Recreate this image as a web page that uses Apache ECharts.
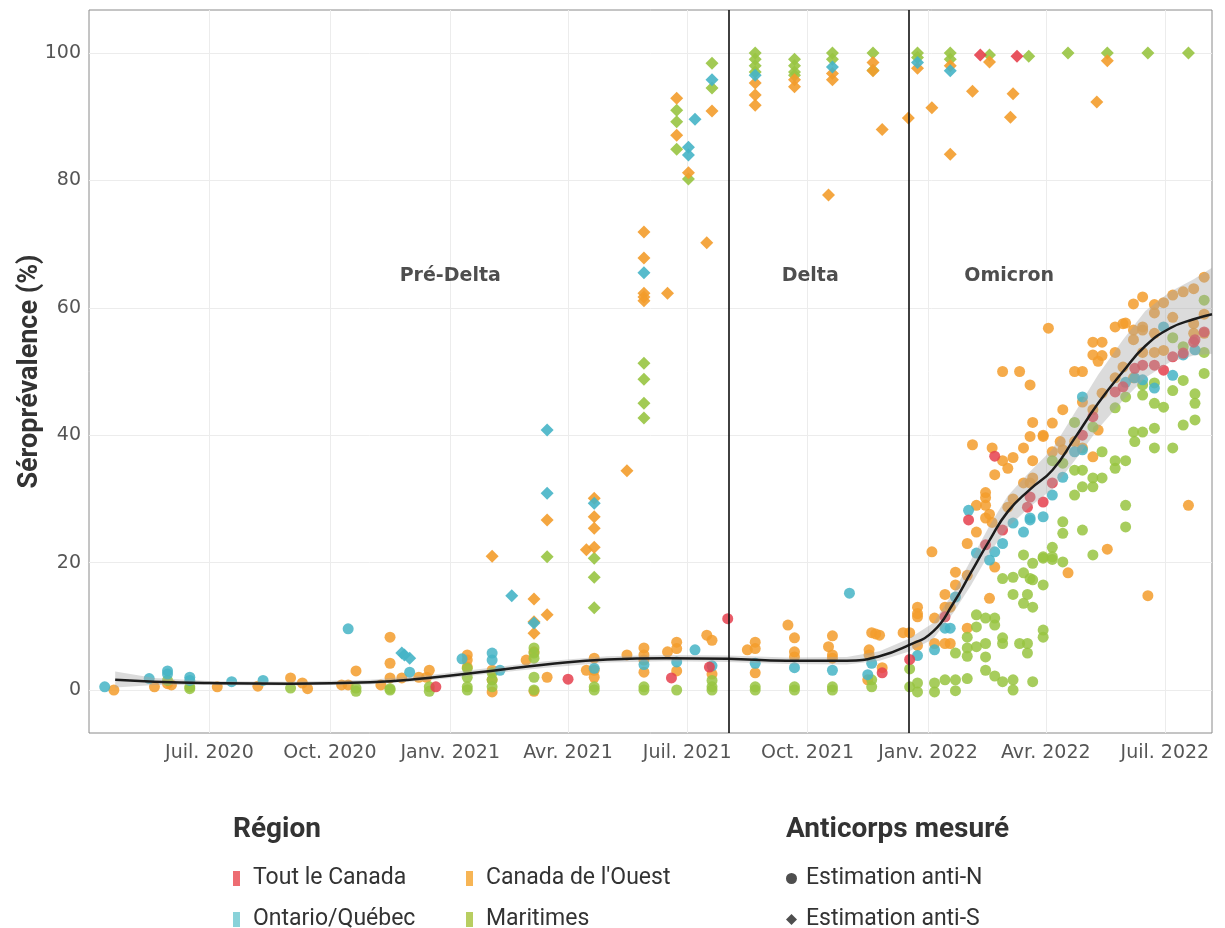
<!DOCTYPE html>
<html>
<head>
<meta charset="utf-8">
<script src="https://cdn.jsdelivr.net/npm/echarts@6/dist/echarts.min.js"></script>
<style>
  html, body { margin: 0; padding: 0; background: #fff; }
  #chart { width: 1225px; height: 928px; }
</style>
</head>
<body>
<div id="chart"></div>
<script>
// axes
var xMin = '2020-03-31', xMax = '2022-08-06';
var xTickDates = ['2020-07-01', '2020-10-01', '2021-01-01', '2021-04-01', '2021-07-01', '2021-10-01', '2022-01-01', '2022-04-01', '2022-07-01'];
var xTickLabels = ['Juil. 2020', 'Oct. 2020', 'Janv. 2021', 'Avr. 2021', 'Juil. 2021', 'Oct. 2021', 'Janv. 2022', 'Avr. 2022', 'Juil. 2022'];
var yTickValues = [0, 20, 40, 60, 80, 100];

// périodes
var phaseNames = ['Pré-Delta', 'Delta', 'Omicron'];
var phaseDates = ['2021-01-01', '2021-10-03', '2022-03-04'];
var phaseBreaks = ['2021-08-02', '2021-12-17'];

// Tout le Canada
var canadaN = [
  ['2020-12-21', 0.5], ['2021-04-01', 1.7], ['2021-06-19', 1.9], ['2021-07-18', 3.6], ['2021-08-01', 11.2],
  ['2021-11-27', 2.7], ['2021-12-18', 4.8], ['2022-01-14', 11.5], ['2022-02-01', 26.7], ['2022-02-14', 22.8],
  ['2022-02-21', 36.7], ['2022-02-27', 25.1], ['2022-03-18', 28.7], ['2022-03-20', 30.3], ['2022-03-30', 29.5],
  ['2022-04-06', 32.5], ['2022-04-29', 40], ['2022-05-07', 42.9], ['2022-05-24', 46.8], ['2022-05-30', 47.6],
  ['2022-06-08', 50.5], ['2022-06-14', 51], ['2022-06-23', 51], ['2022-06-30', 50.2], ['2022-07-07', 52.3],
  ['2022-07-15', 52.9], ['2022-07-24', 55], ['2022-07-23', 54.6], ['2022-07-31', 56.2]
];
var canadaS = [['2022-02-10', 99.7], ['2022-03-10', 99.5]];

// Canada de l'Ouest
var ouestN = [
  ['2020-04-19', 0], ['2020-05-20', 0.5], ['2020-05-30', 1.0], ['2020-06-02', 0.8], ['2020-07-07', 0.5],
  ['2020-08-07', 0.6], ['2020-09-01', 1.9], ['2020-09-10', 1.1], ['2020-09-14', 0.2], ['2020-10-10', 0.8],
  ['2020-10-15', 0.8], ['2020-10-21', 3.0], ['2020-11-09', 0.8], ['2020-11-16', 8.3], ['2020-11-16', 4.2],
  ['2020-11-16', 1.9], ['2020-11-25', 1.9], ['2020-12-08', 2.0], ['2020-12-14', 2.0], ['2020-12-16', 3.1],
  ['2021-01-14', 5.5], ['2021-01-14', 4.7], ['2021-01-14', 3.6], ['2021-02-02', 3.1], ['2021-02-02', 1.6],
  ['2021-02-02', -0.3], ['2021-02-28', 4.7], ['2021-03-06', 6.0], ['2021-03-06', -0.2], ['2021-03-16', 2.0],
  ['2021-04-15', 3.1], ['2021-04-21', 5.0], ['2021-04-21', 3.1], ['2021-04-21', 2.0], ['2021-05-16', 5.5],
  ['2021-05-29', 6.6], ['2021-05-29', 5.5], ['2021-05-29', 4.7], ['2021-05-29', 2.8], ['2021-06-16', 6.0],
  ['2021-06-23', 7.5], ['2021-06-23', 6.5], ['2021-06-23', 3.0], ['2021-07-16', 8.6], ['2021-07-20', 7.8],
  ['2021-07-20', 2.5], ['2021-08-16', 6.3], ['2021-08-22', 7.5], ['2021-08-22', 6.5], ['2021-08-22', 2.7],
  ['2021-09-16', 10.2], ['2021-09-21', 8.2], ['2021-09-21', 6.0], ['2021-09-21', 5.2], ['2021-10-17', 6.8],
  ['2021-10-20', 8.5], ['2021-10-20', 5.0], ['2021-10-20', 5.5], ['2021-11-19', 9.0], ['2021-11-25', 8.6],
  ['2021-11-22', 8.8], ['2021-11-17', 6.3], ['2021-11-17', 5.5], ['2021-11-27', 3.5], ['2021-11-16', 1.6],
  ['2021-12-13', 9.0], ['2021-12-18', 9.0], ['2021-12-24', 13], ['2021-12-24', 12], ['2021-12-24', 11.5],
  ['2021-12-24', 7.0], ['2022-01-04', 21.7], ['2022-01-06', 11.3], ['2022-01-06', 7.3], ['2022-01-14', 15],
  ['2022-01-14', 13], ['2022-01-14', 7.3], ['2022-01-18', 13], ['2022-01-18', 7.3], ['2022-01-22', 18.5],
  ['2022-01-22', 16.5], ['2022-01-31', 18], ['2022-01-31', 23], ['2022-01-31', 9.7], ['2022-02-04', 38.5],
  ['2022-02-07', 29], ['2022-02-07', 24.8], ['2022-02-14', 31], ['2022-02-14', 30.2], ['2022-02-14', 29],
  ['2022-02-14', 27], ['2022-02-17', 27.6], ['2022-02-17', 14.4], ['2022-02-19', 38], ['2022-02-19', 26.3],
  ['2022-02-21', 33.8], ['2022-02-21', 19.3], ['2022-02-27', 36], ['2022-02-27', 50], ['2022-03-03', 34.8],
  ['2022-03-03', 28.7], ['2022-03-07', 36.5], ['2022-03-07', 30], ['2022-03-12', 50], ['2022-03-15', 38],
  ['2022-03-15', 32.5], ['2022-03-20', 47.9], ['2022-03-20', 39.8], ['2022-03-20', 32.5], ['2022-03-22', 42],
  ['2022-03-22', 36], ['2022-03-22', 33.3], ['2022-03-30', 40], ['2022-03-30', 39.8], ['2022-04-03', 56.8],
  ['2022-04-06', 41.9], ['2022-04-06', 37.4], ['2022-04-12', 39], ['2022-04-14', 44], ['2022-04-14', 37.7],
  ['2022-04-18', 18.4], ['2022-04-23', 50], ['2022-04-23', 39], ['2022-04-29', 50], ['2022-04-29', 45.2],
  ['2022-04-29', 38], ['2022-05-07', 54.6], ['2022-05-07', 52.6], ['2022-05-07', 44], ['2022-05-07', 36.6],
  ['2022-05-11', 51.6], ['2022-05-11', 40.8], ['2022-05-14', 54.6], ['2022-05-14', 52.5], ['2022-05-14', 46.6],
  ['2022-05-18', 22.1], ['2022-05-24', 57], ['2022-05-24', 53], ['2022-05-24', 49], ['2022-05-30', 57.5],
  ['2022-05-30', 50.7], ['2022-06-01', 57.6], ['2022-06-07', 60.6], ['2022-06-07', 56.5], ['2022-06-07', 55],
  ['2022-06-07', 49], ['2022-06-14', 61.7], ['2022-06-14', 57], ['2022-06-14', 56.5], ['2022-06-14', 53],
  ['2022-06-18', 14.8], ['2022-06-23', 60.5], ['2022-06-23', 59.2], ['2022-06-23', 56], ['2022-06-23', 53],
  ['2022-06-30', 60.8], ['2022-06-30', 53.3], ['2022-07-07', 62], ['2022-07-07', 58.5], ['2022-07-15', 62.5],
  ['2022-07-19', 29], ['2022-07-23', 63], ['2022-07-23', 57.5], ['2022-07-23', 56], ['2022-07-31', 64.8],
  ['2022-07-31', 59], ['2022-07-31', 56]
];
var ouestS = [
  ['2021-02-02', 21], ['2021-03-06', 14.3], ['2021-03-06', 10.7], ['2021-03-06', 8.9], ['2021-03-16', 11.8],
  ['2021-03-16', 26.7], ['2021-04-15', 22], ['2021-04-21', 22.4], ['2021-04-21', 30.1], ['2021-04-21', 27.2],
  ['2021-04-21', 25.4], ['2021-05-16', 34.4], ['2021-05-29', 71.9], ['2021-05-29', 67.8], ['2021-05-29', 62.3],
  ['2021-05-29', 61.7], ['2021-05-29', 61.1], ['2021-06-16', 62.3], ['2021-06-23', 92.9], ['2021-06-23', 87.1],
  ['2021-07-02', 81.2], ['2021-07-16', 70.2], ['2021-07-20', 90.9], ['2021-08-22', 95.3], ['2021-08-22', 93.4],
  ['2021-08-22', 91.8], ['2021-09-21', 95.8], ['2021-09-21', 94.7], ['2021-10-17', 77.7], ['2021-10-20', 96.8],
  ['2021-10-20', 95.8], ['2021-11-20', 98.5], ['2021-11-20', 97.2], ['2021-11-27', 88], ['2021-12-17', 89.8],
  ['2021-12-24', 97.6], ['2022-01-04', 91.4], ['2022-01-18', 98], ['2022-01-18', 84.1], ['2022-02-04', 94],
  ['2022-02-17', 98.6], ['2022-03-07', 93.6], ['2022-03-05', 89.9], ['2022-05-10', 92.3], ['2022-05-18', 98.8]
];

// Ontario/Québec
var ontqcN = [
  ['2020-04-12', 0.5], ['2020-05-16', 1.8], ['2020-05-30', 3.0], ['2020-05-30', 2.5], ['2020-06-16', 2.0],
  ['2020-06-16', 1.5], ['2020-07-18', 1.3], ['2020-08-11', 1.5], ['2020-10-15', 9.6], ['2020-12-01', 2.8],
  ['2021-01-10', 4.9], ['2021-02-02', 5.8], ['2021-02-02', 4.7], ['2021-02-08', 3.1], ['2021-04-21', 3.4],
  ['2021-05-29', 4.0], ['2021-06-23', 4.4], ['2021-07-07', 6.3], ['2021-07-20', 3.8], ['2021-08-22', 4.2],
  ['2021-09-21', 3.5], ['2021-10-20', 3.1], ['2021-11-02', 15.2], ['2021-11-19', 4.2], ['2021-11-16', 2.4],
  ['2021-12-24', 5.4], ['2022-01-06', 6.3], ['2022-01-14', 9.7], ['2022-01-18', 9.7], ['2022-01-22', 14.6],
  ['2022-02-01', 28.2], ['2022-02-07', 21.5], ['2022-02-17', 20.4], ['2022-02-21', 21.7], ['2022-02-27', 23],
  ['2022-03-07', 26.2], ['2022-03-15', 24.8], ['2022-03-20', 27], ['2022-03-20', 26.7], ['2022-03-30', 27.2],
  ['2022-04-06', 30.6], ['2022-04-14', 33.4], ['2022-04-23', 37.4], ['2022-04-29', 37.7], ['2022-04-29', 46],
  ['2022-06-01', 48.3], ['2022-06-08', 49], ['2022-06-14', 48.7], ['2022-06-23', 47.4], ['2022-06-30', 57],
  ['2022-07-07', 49.4], ['2022-07-15', 52.6], ['2022-07-24', 53.4]
];
var ontqcS = [
  ['2020-11-25', 5.8], ['2020-11-27', 5.5], ['2020-12-01', 5.0], ['2021-02-17', 14.8], ['2021-03-06', 10.5],
  ['2021-03-16', 40.8], ['2021-03-16', 30.9], ['2021-04-21', 29.3], ['2021-05-29', 65.5], ['2021-07-02', 85.2],
  ['2021-07-02', 84], ['2021-07-07', 89.6], ['2021-07-20', 95.8], ['2021-08-22', 96.5], ['2021-10-20', 97.8],
  ['2021-12-24', 98.5], ['2022-01-18', 97.2]
];

// Maritimes
var maritimesN = [
  ['2020-05-30', 1.5], ['2020-06-16', 0.2], ['2020-06-16', 0.5], ['2020-09-01', 0.3], ['2020-10-21', 0.3],
  ['2020-10-21', -0.2], ['2020-11-16', 0.2], ['2020-11-16', 0], ['2020-12-16', 0.5], ['2020-12-16', -0.2],
  ['2021-01-14', 3.4], ['2021-01-14', 2.0], ['2021-01-14', 0.5], ['2021-01-14', 0], ['2021-02-02', 2.7],
  ['2021-02-02', 1.6], ['2021-02-02', 0.5], ['2021-03-06', 6.6], ['2021-03-06', 5.8], ['2021-03-06', 5.0],
  ['2021-03-06', 2.0], ['2021-03-06', 0], ['2021-04-21', 0.5], ['2021-04-21', 0], ['2021-05-29', 0.5],
  ['2021-05-29', 0], ['2021-06-23', 0], ['2021-07-20', 1.5], ['2021-07-20', 0.5], ['2021-07-20', 0],
  ['2021-08-22', 0.5], ['2021-08-22', 0], ['2021-09-21', 0.5], ['2021-09-21', 0], ['2021-10-20', 0.5],
  ['2021-10-20', 0], ['2021-11-19', 1.6], ['2021-11-19', 0.5], ['2021-12-18', 3.3], ['2021-12-18', 0.5],
  ['2021-12-24', 1.1], ['2021-12-24', -0.3], ['2022-01-06', 1.1], ['2022-01-06', -0.3], ['2022-01-14', 1.6],
  ['2022-01-22', 1.6], ['2022-01-22', -0.1], ['2022-01-22', 5.8], ['2022-01-31', 1.8], ['2022-01-31', 8.3],
  ['2022-01-31', 6.6], ['2022-01-31', 5.3], ['2022-02-07', 9.9], ['2022-02-07', 11.8], ['2022-02-07', 6.8],
  ['2022-02-14', 7.3], ['2022-02-14', 5.2], ['2022-02-14', 3.1], ['2022-02-14', 11.3], ['2022-02-21', 11.3],
  ['2022-02-21', 10.2], ['2022-02-21', 2.2], ['2022-02-27', 8.2], ['2022-02-27', 7.3], ['2022-02-27', 17.5],
  ['2022-02-27', 1.3], ['2022-03-07', 17.7], ['2022-03-07', 15], ['2022-03-07', 1.6], ['2022-03-07', 0],
  ['2022-03-12', 7.3], ['2022-03-15', 18.4], ['2022-03-15', 21.2], ['2022-03-15', 13.6], ['2022-03-18', 15],
  ['2022-03-18', 7.3], ['2022-03-18', 5.8], ['2022-03-20', 17.5], ['2022-03-22', 19.9], ['2022-03-22', 17.3],
  ['2022-03-22', 13], ['2022-03-22', 1.3], ['2022-03-30', 16.5], ['2022-03-30', 20.7], ['2022-03-30', 9.4],
  ['2022-03-30', 8.3], ['2022-03-30', 20.9], ['2022-04-06', 22.4], ['2022-04-06', 20.5], ['2022-04-06', 36],
  ['2022-04-06', 20.9], ['2022-04-14', 20.1], ['2022-04-14', 26.4], ['2022-04-14', 24.6], ['2022-04-14', 35.6],
  ['2022-04-23', 42], ['2022-04-23', 34.5], ['2022-04-23', 30.6], ['2022-04-29', 34.5], ['2022-04-29', 31.9],
  ['2022-04-29', 25.1], ['2022-05-07', 41.3], ['2022-05-07', 33.3], ['2022-05-07', 31.9], ['2022-05-07', 21.2],
  ['2022-05-14', 37.4], ['2022-05-14', 33.3], ['2022-05-24', 44.3], ['2022-05-24', 36], ['2022-05-24', 34.8],
  ['2022-06-01', 46], ['2022-06-01', 36], ['2022-06-01', 29], ['2022-06-01', 25.6], ['2022-06-07', 40.5],
  ['2022-06-08', 39], ['2022-06-14', 46.3], ['2022-06-14', 47.9], ['2022-06-14', 40.5], ['2022-06-23', 48.2],
  ['2022-06-23', 45], ['2022-06-23', 41.1], ['2022-06-23', 38], ['2022-06-30', 44.4], ['2022-07-07', 55.3],
  ['2022-07-07', 47], ['2022-07-07', 38], ['2022-07-15', 53.9], ['2022-07-15', 48.6], ['2022-07-15', 41.6],
  ['2022-07-24', 46.5], ['2022-07-24', 45], ['2022-07-24', 42.4], ['2022-07-31', 61.2], ['2022-07-31', 53],
  ['2022-07-31', 49.7]
];
var maritimesS = [
  ['2021-03-16', 20.9], ['2021-04-21', 20.7], ['2021-04-21', 17.7], ['2021-04-21', 12.9], ['2021-05-29', 51.3],
  ['2021-05-29', 48.8], ['2021-05-29', 45], ['2021-05-29', 42.7], ['2021-06-23', 91], ['2021-06-23', 89.2],
  ['2021-06-23', 84.9], ['2021-07-02', 80.2], ['2021-07-20', 98.4], ['2021-07-20', 94.5], ['2021-08-22', 100],
  ['2021-08-22', 99], ['2021-08-22', 98], ['2021-08-22', 97], ['2021-09-21', 99], ['2021-09-21', 98],
  ['2021-09-21', 97], ['2021-09-21', 96.5], ['2021-10-20', 100], ['2021-10-20', 99], ['2021-11-20', 100],
  ['2021-11-20', 97.3], ['2021-12-24', 100], ['2021-12-24', 99.3], ['2022-01-18', 100], ['2022-01-18', 99],
  ['2022-02-17', 99.7], ['2022-03-19', 99.5], ['2022-04-18', 100], ['2022-05-18', 100], ['2022-06-18', 100],
  ['2022-07-19', 100]
];

// courbe lissée et intervalle de confiance
var fitDates = ['2020-04-20', '2020-05-20', '2020-07-01', '2020-09-01', '2020-11-01', '2020-12-15', '2021-02-01',
  '2021-03-15', '2021-05-01', '2021-06-15', '2021-08-01', '2021-09-15', '2021-10-31', '2021-11-25', '2021-12-17',
  '2022-01-05', '2022-01-20', '2022-02-03', '2022-02-17', '2022-03-03', '2022-03-20', '2022-04-06', '2022-04-23',
  '2022-05-11', '2022-05-30', '2022-06-16', '2022-07-05', '2022-07-23', '2022-08-06'];
var fitVals = [1.6, 1.3, 1.1, 1.0, 1.2, 1.9, 3.0, 4.0, 4.8, 5.0, 4.9, 4.6, 4.6, 5.3, 7.0,
  9.2, 13.5, 18.5, 23.5, 28, 31.5, 34.5, 39.5, 45, 50, 54, 56.8, 58.2, 59];
var fitLo = [0.4, 0.8, 0.8, 0.7, 0.9, 1.5, 2.6, 3.5, 4.3, 4.5, 4.4, 4.1, 4.0, 4.6, 6.0,
  8.0, 12, 16.5, 21.5, 25.5, 28.8, 31.5, 36, 41, 45.5, 49, 51.5, 52.5, 52.8];
var fitHi = [2.9, 1.9, 1.4, 1.3, 1.6, 2.3, 3.5, 4.5, 5.3, 5.5, 5.4, 5.1, 5.2, 6.1, 8.0,
  10.5, 15.2, 20.5, 25.8, 30.5, 34.3, 37.8, 43.5, 49.5, 55, 59.5, 62.5, 64.5, 66.3];

var regions = [
  { name: 'Tout le Canada', color: '#e5404d', legend: '#e8474f', n: canadaN, s: canadaS },
  { name: 'Ontario/Québec', color: '#45b4c6', legend: '#6cc7d0', n: ontqcN, s: ontqcS },
  { name: "Canada de l'Ouest", color: '#f39c2b', legend: '#f5a32a', n: ouestN, s: ouestS },
  { name: 'Maritimes', color: '#98c441', legend: '#a6c23a', n: maritimesN, s: maritimesS }
];

function ts(d) { return +echarts.time.parse(d); }
function toXY(arr) { return arr.map(function (p) { return [ts(p[0]), p[1]]; }); }
var xTickTimes = xTickDates.map(ts);

var labelFont = 'DejaVu Sans';
var textFont = 'Roboto';

var series = [];
// points: anti-S losanges, anti-N cercles
[3, 2, 1, 0].forEach(function (i) {
  var r = regions[i];
  series.push({
    name: r.name + ' S', type: 'scatter', data: toXY(r.s), symbol: 'diamond', symbolSize: 13,
    itemStyle: { color: r.color, opacity: 0.9 }, z: 2, silent: true
  });
});
[2, 3, 1, 0].forEach(function (i) {
  var r = regions[i];
  series.push({
    name: r.name + ' N', type: 'scatter', data: toXY(r.n), symbol: 'circle', symbolSize: 11,
    itemStyle: { color: r.color, opacity: 0.85 }, z: 2, silent: true
  });
});

// bande grise (intervalle de confiance)
var bandRows = fitDates.map(function (d, i) { return [ts(d), fitLo[i], fitHi[i]]; });
series.push({
  name: 'ci', type: 'custom', silent: true, z: 3,
  data: bandRows, encode: { x: 0, y: [1, 2] },
  renderItem: function (params, api) {
    if (params.dataIndex !== 0) return;
    var up = bandRows.map(function (r) { return api.coord([r[0], r[2]]); });
    var lo = bandRows.map(function (r) { return api.coord([r[0], r[1]]); }).reverse();
    return {
      type: 'polygon', shape: { points: up.concat(lo) },
      style: { fill: 'rgba(165,165,165,0.4)', stroke: null }
    };
  }
});
series.push({
  name: 'fit', type: 'line', smooth: true, symbol: 'none', silent: true, z: 4,
  lineStyle: { color: '#1c1c1c', width: 2.5 },
  data: fitDates.map(function (d, i) { return [ts(d), fitVals[i]]; }),
  markLine: {
    silent: true, symbol: 'none', label: { show: false },
    lineStyle: { color: '#111', width: 1.6, type: 'solid' },
    data: phaseBreaks.map(function (d) { return { xAxis: ts(d) }; })
  }
});
// noms des périodes
series.push({
  name: 'phases', type: 'scatter', symbolSize: 0, silent: true, z: 5,
  data: phaseDates.map(function (d, i) { return { value: [ts(d), 65], name: phaseNames[i] }; }),
  label: {
    show: true, position: 'inside', formatter: '{b}',
    fontFamily: labelFont, fontWeight: 'bold', fontSize: 19, color: '#222'
  }
});

// séries fictives pour les légendes
regions.forEach(function (r) {
  series.push({ name: r.name, type: 'scatter', data: [], itemStyle: { color: r.legend } });
});
series.push({ name: 'Estimation anti-N', type: 'scatter', data: [], symbol: 'circle', itemStyle: { color: '#222' } });
series.push({ name: 'Estimation anti-S', type: 'scatter', data: [], symbol: 'diamond', itemStyle: { color: '#222' } });

function oneLegend(name, left, top, isShape) {
  return {
    left: left, top: top, padding: 0, selectedMode: false, data: [name],
    icon: isShape ? undefined : 'rect',
    itemWidth: isShape ? 11 : 7, itemHeight: isShape ? 11 : 15,
    textStyle: { fontFamily: textFont, fontSize: 23, color: '#333', padding: [0, 0, 0, isShape ? 4 : 8] }
  };
}
var titleStyle = { fontFamily: textFont, fontWeight: 'bold', fontSize: 28, color: '#333' };

var chart = echarts.init(document.getElementById('chart'));
chart.setOption({
  animation: false,
  backgroundColor: '#fff',
  title: [
    { text: 'Région', left: 228, top: 811, textStyle: titleStyle },
    { text: 'Anticorps mesuré', left: 781, top: 811, textStyle: titleStyle }
  ],
  legend: [
    oneLegend('Tout le Canada', 233, 867, false),
    oneLegend('Ontario/Québec', 233, 908, false),
    oneLegend("Canada de l'Ouest", 466, 867, false),
    oneLegend('Maritimes', 466, 908, false),
    oneLegend('Estimation anti-N', 786, 867, true),
    oneLegend('Estimation anti-S', 786, 908, true)
  ],
  grid: { left: 89, right: 13, top: 10, bottom: 195, show: true, borderColor: '#8a8a8a', borderWidth: 1, containLabel: false, outerBoundsMode: 'none' },
  xAxis: {
    type: 'value', min: ts(xMin), max: ts(xMax), scale: true,
    axisLine: { show: false }, axisTick: { show: false, customValues: xTickTimes },
    axisLabel: {
      customValues: xTickTimes, margin: 11, fontFamily: labelFont, fontSize: 19, color: '#555',
      formatter: function (v) {
        var k = xTickTimes.indexOf(v);
        return k >= 0 ? xTickLabels[k] : '';
      }
    },
    splitLine: { show: true, lineStyle: { color: '#ececec', width: 1 } }
  },
  yAxis: {
    type: 'value', min: -6.75, max: 106.75,
    name: 'Séroprévalence (%)', nameLocation: 'middle', nameGap: 45, nameRotate: 90, nameMoveOverlap: false,
    nameTextStyle: { fontFamily: textFont, fontWeight: 'bold', fontSize: 27, color: '#333' },
    axisLine: { show: false }, axisTick: { show: false, customValues: yTickValues },
    axisLabel: { customValues: yTickValues, margin: 8, fontFamily: labelFont, fontSize: 19, color: '#555' },
    splitLine: { show: true, lineStyle: { color: '#ececec', width: 1 } }
  },
  series: series
});
</script>
</body>
</html>
